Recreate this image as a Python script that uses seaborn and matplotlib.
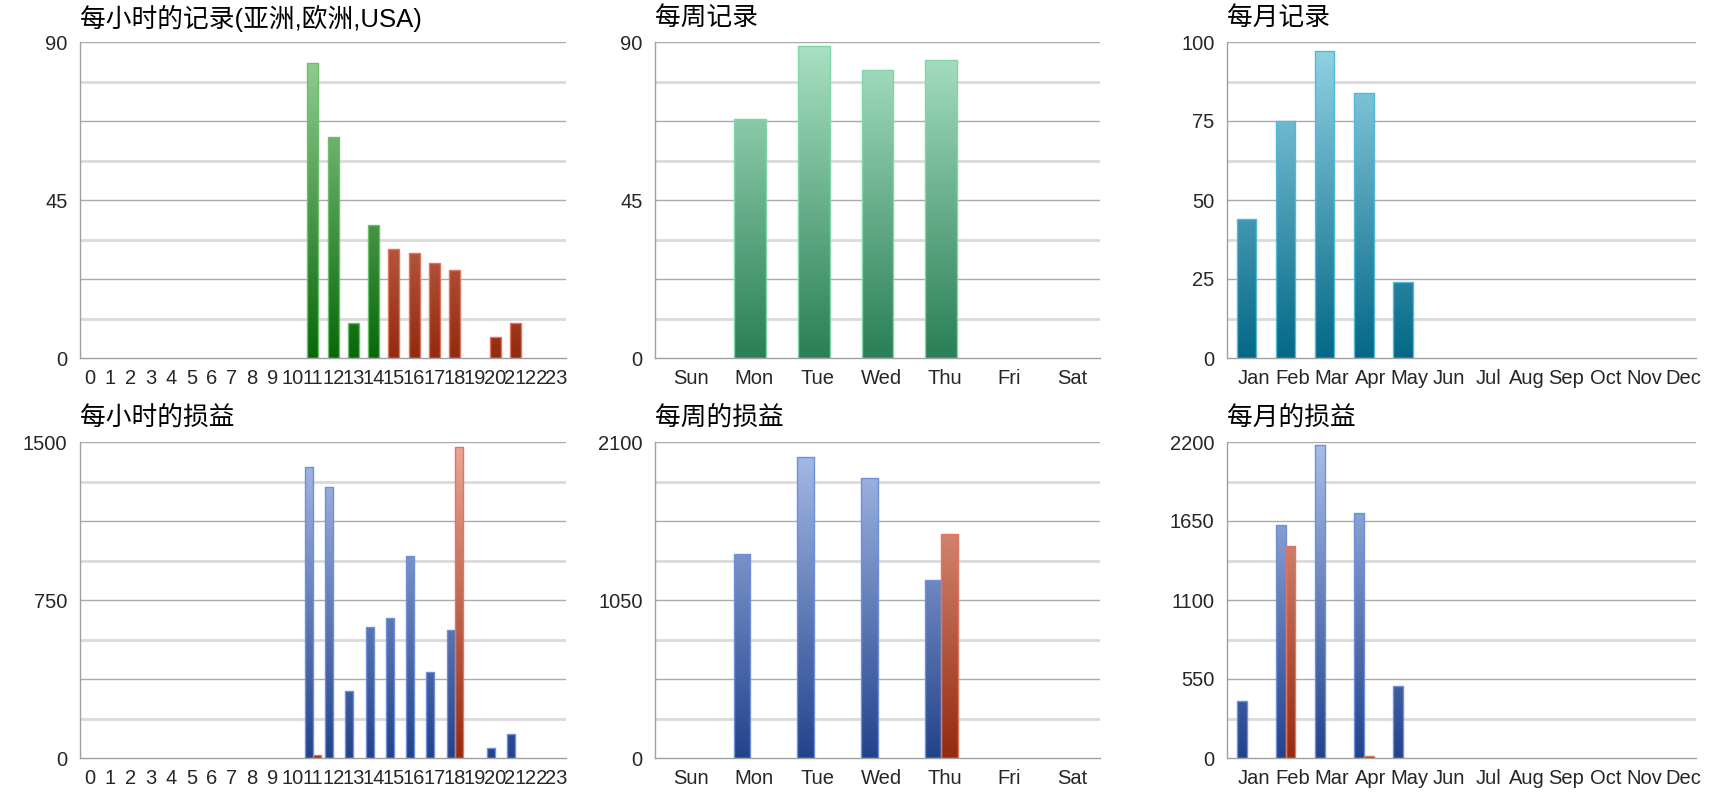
import numpy as np
import pandas as pd
import matplotlib
matplotlib.use('Agg')
import matplotlib.pyplot as plt
import matplotlib.transforms as mtransforms
from matplotlib.colors import LinearSegmentedColormap, to_rgb
import seaborn as sns

# categories
hours = [str(h) for h in range(24)]
weekdays = ['Sun', 'Mon', 'Tue', 'Wed', 'Thu', 'Fri', 'Sat']
months = ['Jan', 'Feb', 'Mar', 'Apr', 'May', 'Jun',
          'Jul', 'Aug', 'Sep', 'Oct', 'Nov', 'Dec']

# records (counts)
hour_count_green = [0] * 11 + [84, 63, 10, 38] + [0] * 9
hour_count_red = [0] * 15 + [31, 30, 27, 25, 0, 6, 10, 0, 0]
week_count = [0, 68, 89, 82, 85, 0, 0]
month_count = [44, 75, 97, 84, 24, 0, 0, 0, 0, 0, 0, 0]

# profit / loss
hour_pnl_blue = [0] * 11 + [1380, 1285, 320, 623, 665, 957, 410, 609, 0, 47, 114, 0, 0]
hour_pnl_red = [0] * 11 + [14, 0, 0, 0, 0, 0, 0, 1476, 0, 0, 0, 0, 0]
week_pnl_blue = [0, 1356, 2000, 1861, 1185, 0, 0]
week_pnl_red = [0, 0, 0, 0, 1489, 0, 0]
month_pnl_blue = [399, 1620, 2181, 1706, 499, 0, 0, 0, 0, 0, 0, 0]
month_pnl_red = [0, 1478, 0, 14, 0, 0, 0, 0, 0, 0, 0, 0]

sns.set_style('white')
plt.rcParams['font.family'] = ['Liberation Sans', 'Noto Sans CJK SC', 'DejaVu Sans']

# gradient colour maps (bottom colour, top colour) + edge colour
GREEN = (LinearSegmentedColormap.from_list('g', ['#086808', '#9ad29a']), '#6cbf6c')
RED = (LinearSegmentedColormap.from_list('r', ['#942a0e', '#eca797']), '#e07560')
MINT = (LinearSegmentedColormap.from_list('m', ['#2a7f55', '#aae2c4']), '#80d6a8')
TEAL = (LinearSegmentedColormap.from_list('t', ['#036886', '#94d4e6']), '#52b8d8')
BLUE = (LinearSegmentedColormap.from_list('b', ['#22428c', '#aabee9']), '#6f8fd8')


def long_df(cats, series):
    rows = []
    for name, vals in series.items():
        for c, v in zip(cats, vals):
            if v > 0:
                rows.append({'cat': c, 'series': name, 'value': v})
    return pd.DataFrame(rows)


def draw_panel(ax, cats, series, styles, ymax, yticks, width, dodge, title, label_dx=0):
    names = list(series.keys())
    df = long_df(cats, series)
    base = ['#ff0000', '#00ff00', '#0000ff']
    palette = {n: base[i] for i, n in enumerate(names)}
    sns.barplot(data=df, x='cat', y='value', hue='series', order=cats, hue_order=names,
                palette=palette, dodge=dodge, width=width, saturation=1,
                linewidth=0, legend=False, ax=ax)

    # fill every bar with a vertical gradient that spans the whole axis height
    grad = np.linspace(0, 1, 256).reshape(-1, 1)
    for p in list(ax.patches):
        if p.get_height() <= 0:
            continue
        fc = np.array(p.get_facecolor()[:3])
        i = [k for k in range(len(names)) if np.allclose(fc, to_rgb(base[k]))][0]
        cmap, edge = styles[i]
        x0, w = p.get_x(), p.get_width()
        im = ax.imshow(grad, cmap=cmap, extent=[x0, x0 + w, 0, ymax], origin='lower',
                       aspect='auto', zorder=2, interpolation='bilinear')
        im.set_clip_path(p)
        p.set_facecolor('none')
        p.set_edgecolor(edge)
        p.set_linewidth(1.0)
        p.set_zorder(3)

    n = len(cats)
    for k in range(1, 9):
        y = ymax * k / 8
        if k % 2 == 0:
            ax.axhline(y, color='#ababab', lw=1.0, zorder=1)
        else:
            ax.axhline(y, color='#dadada', lw=2.0, zorder=1)

    ax.set_xlim(-0.5, n - 0.5)
    ax.set_ylim(0, ymax)
    ax.set_yticks(yticks)
    ax.set_yticklabels([str(t) for t in yticks])
    ax.set_xticks(range(n))
    ax.set_xticklabels(cats)
    ax.set_xticks(np.arange(-0.5, n), minor=True)
    ax.tick_params(axis='x', which='major', length=0, pad=8, labelsize=14.5)
    ax.tick_params(axis='x', which='minor', length=7, color='#a0a0a0', width=1)
    ax.tick_params(axis='y', length=7, color='#a0a0a0', width=1, pad=2, labelsize=14.5)
    ax.set_xlabel('')
    ax.set_ylabel('')
    for s in ['top', 'right']:
        ax.spines[s].set_visible(False)
    for s in ['left', 'bottom']:
        ax.spines[s].set_color('#a0a0a0')
        ax.spines[s].set_linewidth(1)
        ax.spines[s].set_zorder(4)

    if label_dx:
        off = mtransforms.ScaledTranslation(label_dx / 100, 0, ax.figure.dpi_scale_trans)
        for lab in ax.get_xticklabels():
            lab.set_transform(lab.get_transform() + off)

    ax.text(0, 1 + 24 / 316, title, transform=ax.transAxes, ha='left', va='center',
            fontsize=18.5, color='black')


fig = plt.figure(figsize=(17.2, 8), dpi=100)
W, H = 1720, 800
cols = [(80, 486), (655, 445), (1227, 469)]
rows = [42, 442]


def make_ax(c, r):
    left, width = cols[c]
    top = rows[r]
    return fig.add_axes([left / W, (H - top - 316) / H, width / W, 316 / H])


ax = make_ax(0, 0)
draw_panel(ax, hours, {'a': hour_count_green, 'b': hour_count_red}, [GREEN, RED],
           90, [0, 45, 90], 0.54, False, '每小时的记录(亚洲,欧洲,USA)')

ax = make_ax(1, 0)
draw_panel(ax, weekdays, {'a': week_count}, [MINT],
           90, [0, 45, 90], 0.5, False, '每周记录', label_dx=4)

ax = make_ax(2, 0)
draw_panel(ax, months, {'a': month_count}, [TEAL],
           100, [0, 25, 50, 75, 100], 0.5, False, '每月记录', label_dx=7)

ax = make_ax(0, 1)
draw_panel(ax, hours, {'a': hour_pnl_blue, 'b': hour_pnl_red}, [BLUE, RED],
           1500, [0, 750, 1500], 0.8, True, '每小时的损益')

ax = make_ax(1, 1)
draw_panel(ax, weekdays, {'a': week_pnl_blue, 'b': week_pnl_red}, [BLUE, RED],
           2100, [0, 1050, 2100], 0.52, True, '每周的损益', label_dx=4)

ax = make_ax(2, 1)
draw_panel(ax, months, {'a': month_pnl_blue, 'b': month_pnl_red}, [BLUE, RED],
           2200, [0, 550, 1100, 1650, 2200], 0.5, True, '每月的损益', label_dx=7)

plt.savefig('out.png', dpi=100)
